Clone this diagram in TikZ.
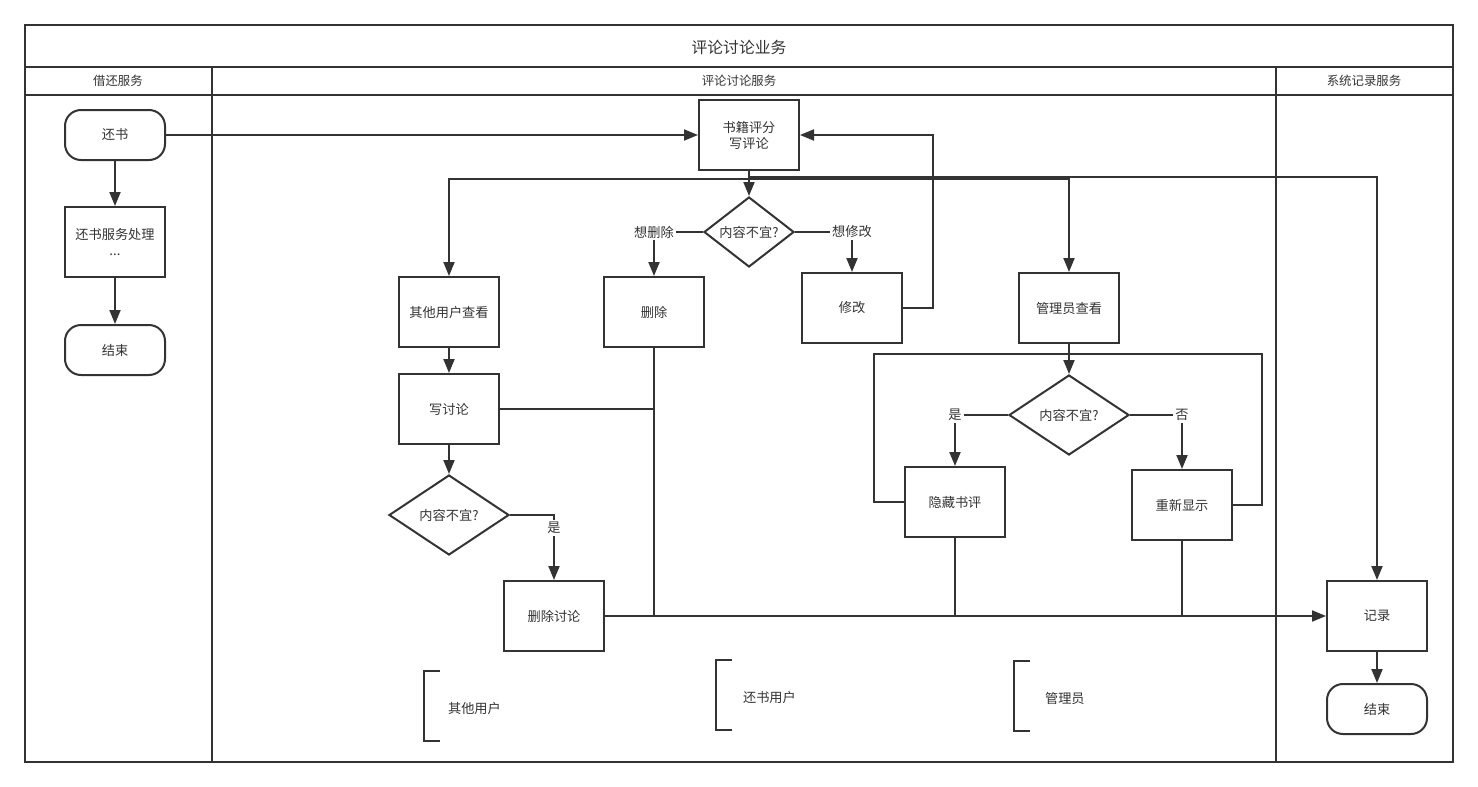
\documentclass[tikz,border=0pt]{standalone}
\usepackage{fontspec}
\newfontfamily\cjk{Noto Sans CJK SC}
\usetikzlibrary{arrows.meta,shapes.geometric,positioning}
\definecolor{linegray}{HTML}{333333}

\tikzset{
  every node/.style={font=\cjk\fontsize{6.6}{8}\selectfont, text=linegray},
  box/.style={draw=linegray, line width=1pt, minimum width=50pt, minimum height=35pt, align=center, inner sep=1pt},
  term/.style={box, rounded corners=8pt, minimum height=25pt},
  dec/.style={draw=linegray, line width=1pt, diamond, aspect=2, inner sep=0pt, minimum width=60pt, minimum height=40pt},
  flow/.style={draw=linegray, line width=1pt, -{Triangle[length=7pt,width=5.5pt]}},
  link/.style={draw=linegray, line width=1pt},
  lane/.style={draw=linegray, line width=1.2pt},
  lbl/.style={fill=white, inner sep=1pt},
}

\begin{document}
\begin{tikzpicture}[x=0.5pt,y=-0.5pt]
\useasboundingbox (0,0) rectangle (1478,787);
% Swimlanes
\draw[lane] (25,25) rectangle (1453,762);
\draw[lane] (25,67) -- (1453,67);
\draw[lane] (25,95) -- (1453,95);
\draw[lane] (212,67) -- (212,762);
\draw[lane] (1276,67) -- (1276,762);
\node[font=\cjk\fontsize{7.9}{9}\selectfont] (title) at (739,47) {评论讨论业务};
\node[font=\cjk\fontsize{6.2}{8}\selectfont] (laneA) at (118,81) {借还服务};
\node[font=\cjk\fontsize{6.2}{8}\selectfont] (laneB) at (739,81) {评论讨论服务};
\node[font=\cjk\fontsize{6.2}{8}\selectfont] (laneC) at (1364,81) {系统记录服务};

% Borrow / return lane
\node[term] (ret) at (115,135) {还书};
\node[box] (retproc) at (115,242) {还书服务处理\\...};
\node[term] (endA) at (115,350) {结束};

% Comment lane
\node[box] (book) at (749,135) {书籍评分\\写评论};
\node[dec, minimum width=45pt, minimum height=35pt] (dec1) at (749,232) {内容不宜?};
\node[box] (del) at (654,312) {删除};
\node[box] (mod) at (852,308) {修改};
\node[box] (other) at (449,312) {其他用户查看};
\node[box] (wd) at (449,409) {写讨论};
\node[dec] (dec2) at (449,515) {内容不宜?};
\node[box] (delc) at (554,616) {删除讨论};
\node[box] (admin) at (1069,308) {管理员查看};
\node[dec] (dec3) at (1069,415) {内容不宜?};
\node[box] (hide) at (955,502) {隐藏书评};
\node[box] (redo) at (1182,505) {重新显示};

% Record lane
\node[box] (rec) at (1377,616) {记录};
\node[term] (endC) at (1377,709) {结束};

% Actors
\draw[link] (440,671) -- (424,671) -- (424,741) -- (440,741);
\node[anchor=west] (actA) at (441,708) {其他用户};
\draw[link] (732,660) -- (716,660) -- (716,730) -- (732,730);
\node[anchor=west] (actB) at (736,697) {还书用户};
\draw[link] (1030,661) -- (1014,661) -- (1014,731) -- (1030,731);
\node[anchor=west] (actC) at (1038,698) {管理员};

% Connectors
\draw[flow] (ret) -- (retproc);
\draw[flow] (retproc) -- (endA);
\draw[flow] (ret.east) -- (book.west);
\draw[flow] (book) -- (dec1);
\draw[flow] (book.south) -- ++(0,8) -| (other.north);
\draw[flow] (book.south) -- ++(0,8) -| (admin.north);
\draw[flow] (book.south) -- ++(0,6) -| (rec.north);
\draw[flow] (dec1.west) -| node[pos=0.5, lbl] {想删除} (del.north);
\draw[flow] (dec1.east) -| node[pos=0.5, lbl] {想修改} (mod.north);
\draw[flow] (mod.east) -- ++(30,0) |- (book.east);
\draw[flow] (other) -- (wd);
\draw[flow] (wd) -- (dec2);
\draw[flow] (dec2.east) -| node[pos=0.6, lbl] {是} (delc.north);
\draw[link] (wd.east) -- (del.south |- wd.east);
\draw[link] (del.south) -- (del.south |- rec.west);
\draw[flow] (delc.east) -- (rec.west);
\draw[flow] (admin) -- (dec3);
\draw[flow] (dec3.west) -| node[pos=0.5, lbl] {是} (hide.north);
\draw[flow] (dec3.east) -| node[pos=0.5, lbl] {否} (redo.north);
\coordinate (loop) at (1069,354);
\draw[link] (hide.west) -- ++(-30,0) |- (loop);
\draw[link] (redo.east) -- ++(29,0) |- (loop);
\draw[link] (hide.south) -- (hide.south |- rec.west);
\draw[link] (redo.south) -- (redo.south |- rec.west);
\draw[flow] (rec) -- (endC);
\end{tikzpicture}
\end{document}
